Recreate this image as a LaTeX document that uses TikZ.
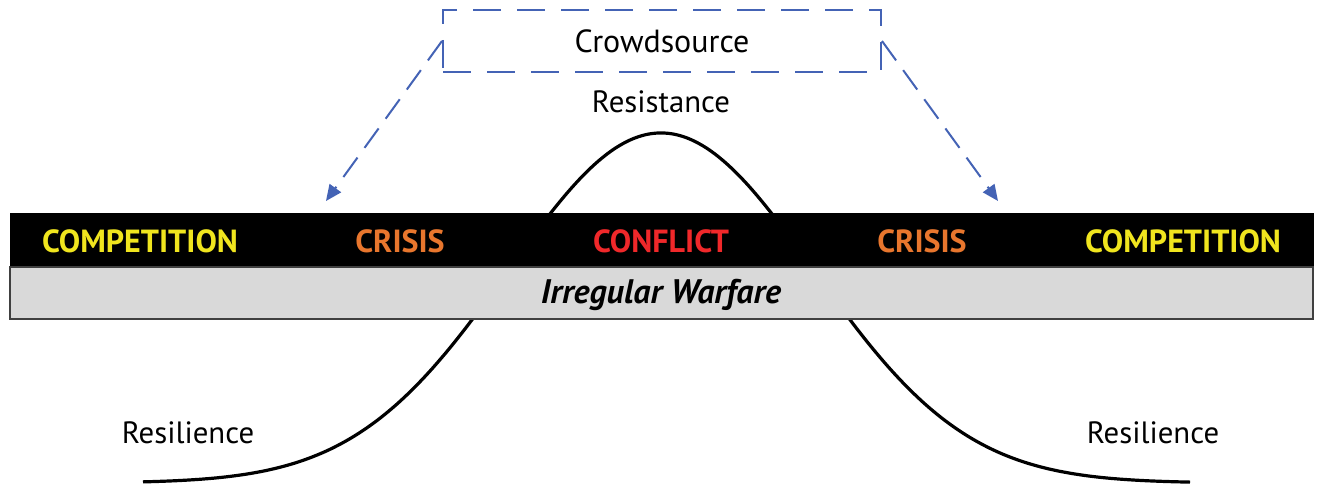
\documentclass[tikz,border=0pt]{standalone}
\usepackage{fontspec}
\setmainfont{PT Sans}
\usetikzlibrary{arrows.meta}
\definecolor{cyel}{HTML}{F0E51E}
\definecolor{corange}{HTML}{E8762D}
\definecolor{cred}{HTML}{F0282A}
\definecolor{cblue}{HTML}{4463B5}
\definecolor{cgray}{HTML}{D9D9D9}
\definecolor{cgrayline}{HTML}{404040}
\begin{document}
\begin{tikzpicture}[x=0.5pt,y=-0.5pt,
  lbl/.style={inner sep=0pt, anchor=base, font=\fontsize{15.4}{18}\selectfont},
  barlbl/.style={inner sep=0pt, anchor=base, font=\fontsize{16}{19}\selectfont\bfseries},
  dashbox/.style={draw=cblue, line width=1pt, dash pattern=on 14pt off 8pt, inner sep=0pt,
    font=\fontsize{16}{19}\selectfont},
  arrowline/.style={draw=cblue, line width=1pt, dash pattern=on 12pt off 6pt,
    -{Triangle[length=8pt,width=7pt]}},
  curve/.style={draw=black, line width=1.6pt},
  blackbar/.style={fill=black, draw=black, line width=0.5pt},
  graybar/.style={fill=cgray, draw=cgrayline, line width=0.6pt}]
\useasboundingbox (0,0) rectangle (1317,486);
% bell curve
\draw[curve] plot[domain=143:1190, samples=240, smooth]
  (\x, {133+350*(1-exp(-((\x-661)/100)^2/(2*1.53^2)))});
% bars
\path[blackbar] (10,214) rectangle (1313,267);
\path[graybar] (10,267) rectangle (1313,319);
% bar labels
\node[barlbl, text=cyel] (comp1) at (140,253) {COMPETITION};
\node[barlbl, text=corange] (cris1) at (400,253) {CRISIS};
\node[barlbl, text=cred] (conf) at (661,253) {CONFLICT};
\node[barlbl, text=corange] (cris2) at (922,253) {CRISIS};
\node[barlbl, text=cyel] (comp2) at (1183,253) {COMPETITION};
\node[inner sep=0pt, anchor=base, font=\fontsize{17}{20}\selectfont\bfseries\itshape] (iw) at (661,304) {Irregular Warfare};
% crowdsource box
\node[dashbox, minimum width=219pt, minimum height=31pt] (crowd) at (662,41) {Crowdsource};
\coordinate (ltip) at (326,201);
\coordinate (rtip) at (998,201);
\draw[arrowline] (crowd.west) -- (ltip);
\draw[arrowline] (crowd.east) -- (rtip);
% other labels
\node[lbl] (resist) at (661,113) {Resistance};
\node[lbl] (resl) at (188,443) {Resilience};
\node[lbl] (resr) at (1153,443) {Resilience};
\end{tikzpicture}
\end{document}
